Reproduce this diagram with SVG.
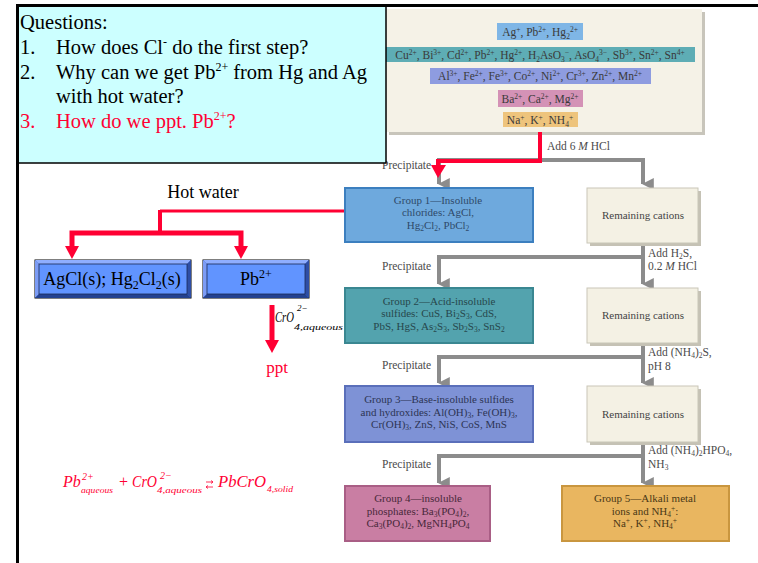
<svg xmlns="http://www.w3.org/2000/svg" width="758" height="563" viewBox="0 0 758 563">
<defs>
<style>
.q{font-family:"Liberation Serif",serif;font-size:20.5px;fill:#000}
.qr{fill:#FF0033}
.sm{font-family:"Liberation Serif",serif;font-size:11.5px;fill:#4a4a4a}
.cat{font-family:"Liberation Serif",serif;font-size:11.5px;fill:#3a3a3a;text-anchor:middle}
.bx{font-family:"Liberation Serif",serif;font-size:11px;text-anchor:middle}
.sp{font-size:7.5px}
.sb{font-size:7.5px}
.gl{fill:none;stroke:#8c8c8c;stroke-width:4}
.rl{fill:none;stroke:#FF0033}
.rem{fill:#F4F1E4;stroke:#c9c6b8;stroke-width:1}
.big{font-family:"Liberation Serif",serif;font-size:18px;fill:#000;text-anchor:middle}
.eq{font-family:"Liberation Serif",serif;font-style:italic;fill:#FF0033}
</style>
<marker id="ga" viewBox="0 0 10 10" refX="5" refY="9" markerWidth="3" markerHeight="3" orient="auto-start-reverse" markerUnits="strokeWidth"><path d="M0,0 L10,0 L5,10 Z" fill="#8c8c8c"/></marker>
</defs>
<rect width="758" height="563" fill="#fff"/>

<!-- cation panel -->
<g id="cations">
<rect x="389" y="12" width="316" height="123" fill="#c8c5bb"/>
<rect x="386" y="9" width="316" height="123" fill="#F5F2E7"/>
<rect x="497" y="23" width="86" height="17" fill="#7FB6E6"/>
<text class="cat" x="540" y="36">Ag<tspan class="sp" dy="-4">+</tspan><tspan dy="4">, Pb</tspan><tspan class="sp" dy="-4">2+</tspan><tspan dy="4">, Hg</tspan><tspan class="sb" dy="2.5">2</tspan><tspan class="sp" dy="-6.5">2+</tspan></text>
<rect x="386" y="47" width="309" height="15" fill="#5EADB5"/>
<text class="cat" x="540" y="59">Cu<tspan class="sp" dy="-4">2+</tspan><tspan dy="4">, Bi</tspan><tspan class="sp" dy="-4">3+</tspan><tspan dy="4">, Cd</tspan><tspan class="sp" dy="-4">2+</tspan><tspan dy="4">, Pb</tspan><tspan class="sp" dy="-4">2+</tspan><tspan dy="4">, Hg</tspan><tspan class="sp" dy="-4">2+</tspan><tspan dy="4">, H</tspan><tspan class="sb" dy="2.5">2</tspan><tspan dy="-2.5">AsO</tspan><tspan class="sb" dy="2.5">3</tspan><tspan class="sp" dy="-6.5">−</tspan><tspan dy="4">, AsO</tspan><tspan class="sb" dy="2.5">4</tspan><tspan class="sp" dy="-6.5">3−</tspan><tspan dy="4">, Sb</tspan><tspan class="sp" dy="-4">3+</tspan><tspan dy="4">, Sn</tspan><tspan class="sp" dy="-4">2+</tspan><tspan dy="4">, Sn</tspan><tspan class="sp" dy="-4">4+</tspan></text>
<rect x="430" y="68" width="221" height="16" fill="#8E9CE0"/>
<text class="cat" x="540" y="80">Al<tspan class="sp" dy="-4">3+</tspan><tspan dy="4">, Fe</tspan><tspan class="sp" dy="-4">2+</tspan><tspan dy="4">, Fe</tspan><tspan class="sp" dy="-4">3+</tspan><tspan dy="4">, Co</tspan><tspan class="sp" dy="-4">2+</tspan><tspan dy="4">, Ni</tspan><tspan class="sp" dy="-4">2+</tspan><tspan dy="4">, Cr</tspan><tspan class="sp" dy="-4">3+</tspan><tspan dy="4">, Zn</tspan><tspan class="sp" dy="-4">2+</tspan><tspan dy="4">, Mn</tspan><tspan class="sp" dy="-4">2+</tspan></text>
<rect x="498" y="90" width="85" height="17" fill="#D492B6"/>
<text class="cat" x="540" y="103">Ba<tspan class="sp" dy="-4">2+</tspan><tspan dy="4">, Ca</tspan><tspan class="sp" dy="-4">2+</tspan><tspan dy="4">, Mg</tspan><tspan class="sp" dy="-4">2+</tspan></text>
<rect x="503" y="112" width="75" height="15" fill="#EEC47C"/>
<text class="cat" x="540" y="124">Na<tspan class="sp" dy="-4">+</tspan><tspan dy="4">, K</tspan><tspan class="sp" dy="-4">+</tspan><tspan dy="4">, NH</tspan><tspan class="sb" dy="2.5">4</tspan><tspan class="sp" dy="-6.5">+</tspan></text>
</g>

<!-- connectors -->
<g id="connectors">
<path class="gl" d="M540,132 V160 H643 V184" marker-end="url(#ga)"/>
<path class="gl" d="M540,160 H439 V184" marker-end="url(#ga)"/>
<path class="gl" d="M643,243 V284" marker-end="url(#ga)"/>
<path class="gl" d="M643,257 H439 V284" marker-end="url(#ga)"/>
<path class="gl" d="M643,343 V383" marker-end="url(#ga)"/>
<path class="gl" d="M643,357 H439 V383" marker-end="url(#ga)"/>
<path class="gl" d="M643,442 V483" marker-end="url(#ga)"/>
<path class="gl" d="M643,456 H439 V483" marker-end="url(#ga)"/>
<path class="rl" stroke-width="4" d="M540,132 V161 H438 V166"/>
<polygon points="431,165 446,165 438,178" fill="#FF0033"/>
<path class="rl" stroke-width="3" d="M345,211 H160"/>
<path class="rl" stroke-width="4" d="M160,210 V233"/>
<path class="rl" stroke-width="5" d="M72,247 V233 H241 V247"/>
<polygon points="65,246 79,246 72,259" fill="#FF0033"/>
<polygon points="234,246 248,246 241,259" fill="#FF0033"/>
<path class="rl" stroke-width="5" d="M272,305 V341"/>
<polygon points="265,340 279,340 272,353" fill="#FF0033"/>
</g>

<g id="labels" class="sm">
<text x="547" y="150">Add 6 <tspan font-style="italic">M</tspan> HCl</text>
<text x="382" y="169">Precipitate</text>
<text x="648" y="257">Add H<tspan class="sb" dy="2">2</tspan><tspan dy="-2">S,</tspan></text>
<text x="648" y="270">0.2 <tspan font-style="italic">M</tspan> HCl</text>
<text x="382" y="270">Precipitate</text>
<text x="648" y="356">Add (NH<tspan class="sb" dy="2">4</tspan><tspan dy="-2">)</tspan><tspan class="sb" dy="2">2</tspan><tspan dy="-2">S,</tspan></text>
<text x="648" y="370">pH 8</text>
<text x="382" y="369">Precipitate</text>
<text x="648" y="454">Add (NH<tspan class="sb" dy="2">4</tspan><tspan dy="-2">)</tspan><tspan class="sb" dy="2">2</tspan><tspan dy="-2">HPO</tspan><tspan class="sb" dy="2">4</tspan><tspan dy="-2">,</tspan></text>
<text x="648" y="468">NH<tspan class="sb" dy="2">3</tspan></text>
<text x="382" y="468">Precipitate</text>
</g>

<g id="group1">
<rect x="345" y="188" width="188" height="54" fill="#6EA9DD" stroke="#3C7FBF" stroke-width="2"/>
<text class="bx" fill="#2E4A6A"><tspan x="438" y="203.5">Group 1—Insoluble</tspan><tspan x="438" y="216">chlorides: AgCl,</tspan><tspan x="438" y="228.5">Hg<tspan class="sb" dy="2">2</tspan><tspan dy="-2">Cl</tspan><tspan class="sb" dy="2">2</tspan><tspan dy="-2">, PbCl</tspan><tspan class="sb" dy="2">2</tspan></tspan></text>
</g>
<g id="rem1">
<rect x="590" y="191" width="111" height="55" fill="#c5c2b5"/>
<rect class="rem" x="587" y="188" width="111" height="55"/>
<text class="bx" x="643" y="219" font-size="11.5" fill="#444">Remaining cations</text>
</g>
<g id="group2">
<rect x="345" y="288" width="188" height="55" fill="#53A3AE" stroke="#3A8791" stroke-width="2"/>
<text class="bx" fill="#27474C"><tspan x="439" y="304.5">Group 2—Acid-insoluble</tspan><tspan x="439" y="317">sulfides: CuS, Bi<tspan class="sb" dy="2">2</tspan><tspan dy="-2">S</tspan><tspan class="sb" dy="2">3</tspan><tspan dy="-2">, CdS,</tspan></tspan><tspan x="439" y="329.5">PbS, HgS, As<tspan class="sb" dy="2">2</tspan><tspan dy="-2">S</tspan><tspan class="sb" dy="2">3</tspan><tspan dy="-2">, Sb</tspan><tspan class="sb" dy="2">2</tspan><tspan dy="-2">S</tspan><tspan class="sb" dy="2">3</tspan><tspan dy="-2">, SnS</tspan><tspan class="sb" dy="2">2</tspan></tspan></text>
</g>
<g id="rem2">
<rect x="590" y="291" width="111" height="55" fill="#c5c2b5"/>
<rect class="rem" x="587" y="288" width="111" height="55"/>
<text class="bx" x="643" y="319" font-size="11.5" fill="#444">Remaining cations</text>
</g>
<g id="group3">
<rect x="345" y="386" width="188" height="56" fill="#7E92D6" stroke="#5A6FBA" stroke-width="2"/>
<text class="bx" fill="#2D3555"><tspan x="439" y="403">Group 3—Base-insoluble sulfides</tspan><tspan x="439" y="415.5">and hydroxides: Al(OH)<tspan class="sb" dy="2">3</tspan><tspan dy="-2">, Fe(OH)</tspan><tspan class="sb" dy="2">3</tspan><tspan dy="-2">,</tspan></tspan><tspan x="439" y="428">Cr(OH)<tspan class="sb" dy="2">3</tspan><tspan dy="-2">, ZnS, NiS, CoS, MnS</tspan></tspan></text>
</g>
<g id="rem3">
<rect x="590" y="389" width="111" height="56" fill="#c5c2b5"/>
<rect class="rem" x="587" y="386" width="111" height="56"/>
<text class="bx" x="643" y="418" font-size="11.5" fill="#444">Remaining cations</text>
</g>
<g id="group4">
<rect x="345" y="486" width="145" height="55" fill="#C97EA3" stroke="#A95E85" stroke-width="2"/>
<text class="bx" fill="#48283A"><tspan x="418" y="502">Group 4—insoluble</tspan><tspan x="418" y="514.5">phosphates: Ba<tspan class="sb" dy="2">3</tspan><tspan dy="-2">(PO</tspan><tspan class="sb" dy="2">4</tspan><tspan dy="-2">)</tspan><tspan class="sb" dy="2">2</tspan><tspan dy="-2">,</tspan></tspan><tspan x="418" y="527">Ca<tspan class="sb" dy="2">3</tspan><tspan dy="-2">(PO</tspan><tspan class="sb" dy="2">4</tspan><tspan dy="-2">)</tspan><tspan class="sb" dy="2">2</tspan><tspan dy="-2">, MgNH</tspan><tspan class="sb" dy="2">4</tspan><tspan dy="-2">PO</tspan><tspan class="sb" dy="2">4</tspan></tspan></text>
</g>
<g id="group5">
<rect x="562" y="486" width="167" height="55" fill="#E9B660" stroke="#C9963F" stroke-width="2"/>
<text class="bx" fill="#4A3816"><tspan x="645" y="502">Group 5—Alkali metal</tspan><tspan x="645" y="514.5">ions and NH<tspan class="sb" dy="2">4</tspan><tspan class="sp" dy="-6">+</tspan><tspan dy="4">:</tspan></tspan><tspan x="645" y="527">Na<tspan class="sp" dy="-4">+</tspan><tspan dy="4">, K</tspan><tspan class="sp" dy="-4">+</tspan><tspan dy="4">, NH</tspan><tspan class="sb" dy="2">4</tspan><tspan class="sp" dy="-6">+</tspan></tspan></text>
</g>

<!-- questions box -->
<g id="questions">
<rect x="17" y="6" width="369" height="157" fill="#CCFFFF" stroke="#000" stroke-width="1.5"/>
<text class="q" x="20" y="29">Questions:</text>
<text class="q" x="20" y="54">1.</text>
<text class="q" x="56" y="54">How does Cl<tspan font-size="12" dy="-8">-</tspan><tspan dy="8"> do the first step?</tspan></text>
<text class="q" x="20" y="79">2.</text>
<text class="q" x="56" y="79">Why can we get Pb<tspan font-size="12" dy="-8">2+</tspan><tspan dy="8" dx="5">from Hg and Ag</tspan></text>
<text class="q" x="56" y="103">with hot water?</text>
<text class="q qr" x="20" y="128">3.</text>
<text class="q qr" x="56" y="128">How do we ppt. Pb<tspan font-size="12" dy="-8">2+</tspan><tspan dy="8">?</tspan></text>
</g>

<!-- frame -->
<path d="M16,5.5 H758 M17.5,5 V563" stroke="#000" stroke-width="3" fill="none"/>

<text class="big" x="203" y="198">Hot water</text>

<g id="agcl">
<rect x="35" y="260" width="156" height="38" fill="#3D63C8" stroke="#000" stroke-width="1"/>
<polygon points="35,260 191,260 187,264 39,264" fill="#8FAEFF"/>
<polygon points="35,260 39,264 39,294 35,298" fill="#7C9CF5"/>
<polygon points="35,298 39,294 187,294 191,298" fill="#23418F"/>
<polygon points="191,260 187,264 187,294 191,298" fill="#2E4EA5"/>
<rect x="39" y="264" width="148" height="30" fill="#6194FF" stroke="#1a2a55" stroke-width="0.8"/>
<text class="big" x="112" y="285" font-size="18.5">AgCl(s); Hg<tspan font-size="12" dy="4">2</tspan><tspan dy="-4">Cl</tspan><tspan font-size="12" dy="4">2</tspan><tspan dy="-4">(s)</tspan></text>
</g>
<g id="pb">
<rect x="203" y="260" width="106" height="38" fill="#3D63C8" stroke="#000" stroke-width="1"/>
<polygon points="203,260 309,260 305,264 207,264" fill="#8FAEFF"/>
<polygon points="203,260 207,264 207,294 203,298" fill="#7C9CF5"/>
<polygon points="203,298 207,294 305,294 309,298" fill="#23418F"/>
<polygon points="309,260 305,264 305,294 309,298" fill="#2E4EA5"/>
<rect x="207" y="264" width="98" height="30" fill="#6194FF" stroke="#1a2a55" stroke-width="0.8"/>
<text class="big" x="256" y="285">Pb<tspan font-size="12" dy="-7">2+</tspan></text>
</g>

<g id="cro4label" font-family="Liberation Serif, serif" font-style="italic" fill="#000">
<text x="275" y="322" font-size="14" textLength="19" lengthAdjust="spacingAndGlyphs">CrO</text>
<text x="297" y="311" font-size="9">2−</text>
<text x="294" y="330" font-size="8.5" textLength="49" lengthAdjust="spacingAndGlyphs">4,aqueous</text>
</g>
<text x="277" y="373" font-family="Liberation Serif, serif" font-size="17" fill="#FF0033" text-anchor="middle">ppt</text>

<g id="equation" class="eq">
<text x="63" y="487" font-size="16">Pb</text>
<text x="82" y="480" font-size="10">2+</text>
<text x="81" y="493" font-size="9" textLength="32" lengthAdjust="spacingAndGlyphs">aqueous</text>
<text x="119" y="487" font-size="16" font-style="normal">+</text>
<text x="132" y="487" font-size="16" textLength="25" lengthAdjust="spacingAndGlyphs">CrO</text>
<text x="160" y="479" font-size="10">2−</text>
<text x="157" y="493" font-size="9" textLength="45" lengthAdjust="spacingAndGlyphs">4,aqueous</text>
<text x="218" y="487" font-size="16" textLength="48" lengthAdjust="spacingAndGlyphs">PbCrO</text>
<text x="267" y="492" font-size="9" textLength="26" lengthAdjust="spacingAndGlyphs">4,solid</text>
</g>
<g id="eqarrows" stroke="#FF0033" stroke-width="0.8" fill="none">
<path d="M206,482 H213 M211,480.5 L213,482 L211,483.5"/>
<path d="M206,487 H213 M208,485.5 L206,487 L208,488.5"/>
</g>
</svg>
